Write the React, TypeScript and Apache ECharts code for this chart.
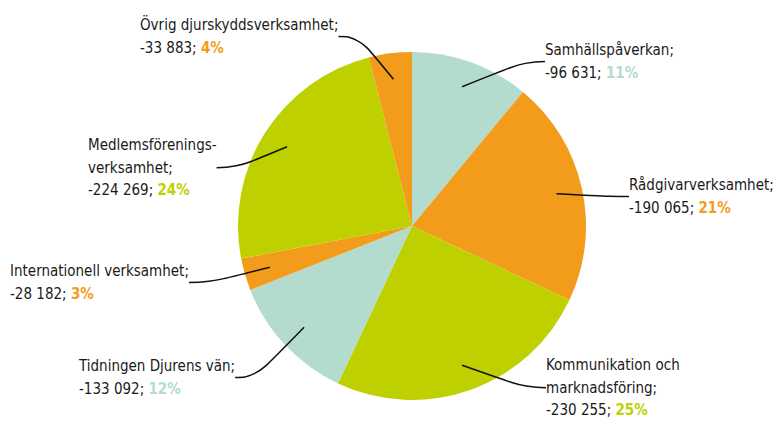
import React, { useEffect, useRef } from "react";
import * as echarts from "echarts";

const categories = [
  "Samhällspåverkan",
  "Rådgivarverksamhet",
  "Kommunikation och\nmarknadsföring",
  "Tidningen Djurens vän",
  "Internationell verksamhet",
  "Medlemsförenings-\nverksamhet",
  "Övrig djurskyddsverksamhet",
];
const amountLabels = ["-96 631", "-190 065", "-230 255", "-133 092", "-28 182", "-224 269", "-33 883"];
const shares = [11, 21, 25, 12, 3, 24, 4];
const colorKeys = ["t", "o", "g", "t", "o", "g", "o"];

const TEAL = "#b3dccf";
const ORANGE = "#f39c1b";
const GREEN = "#bfd000";
const colorMap: Record<string, string> = { t: TEAL, o: ORANGE, g: GREEN };

// label block anchor (left x, top y) per slice
const labelPos: [number, number][] = [
  [545, 39],
  [629, 174],
  [546, 354],
  [79, 355],
  [10, 260],
  [88, 134],
  [140, 14],
];

const FONT = "'DejaVu Sans Condensed', 'Liberation Sans Narrow', sans-serif";
const FS = 15;
const LH = 22.5;

export default function App() {
  const ref = useRef<HTMLDivElement>(null);
  useEffect(() => {
    document.body.style.margin = "0";
    const chart = echarts.init(ref.current!, null, { renderer: "svg" });
    const data = shares.map((v, i) => ({
      value: v,
      name: categories[i],
      itemStyle: { color: colorMap[colorKeys[i]] },
    }));
    const labelData = shares.map((v, i) => ({ value: v, name: categories[i] }));
    chart.setOption({
      animation: false,
      backgroundColor: "#ffffff",
      series: [
        {
          type: "pie",
          center: [412, 226],
          radius: [0, 174],
          startAngle: 90,
          clockwise: true,
          silent: true,
          label: { show: false },
          labelLine: { show: false },
          itemStyle: { borderWidth: 0 },
          data,
        },
        {
          type: "pie",
          center: [412, 226],
          radius: [0, 148],
          startAngle: 90,
          clockwise: true,
          silent: true,
          z: 5,
          itemStyle: { color: "rgba(0,0,0,0)", borderWidth: 0 },
          label: {
            show: true,
            overflow: "none",
            fontFamily: FONT,
            formatter: (p: any) => {
              const i = p.dataIndex;
              const lines = categories[i]
                .split("\n")
                .map((l, k, arr) => `{n|${l}${k === arr.length - 1 ? ";" : ""}}`);
              return lines.join("\n") + `\n{n|${amountLabels[i]}; }{${colorKeys[i]}|${shares[i]}%}`;
            },
            rich: {
              n: { fontFamily: FONT, fontSize: FS, color: "#1a1a1a", lineHeight: LH },
              t: { fontFamily: FONT, fontSize: FS, color: TEAL, fontWeight: "bold", lineHeight: LH },
              o: { fontFamily: FONT, fontSize: FS, color: ORANGE, fontWeight: "bold", lineHeight: LH },
              g: { fontFamily: FONT, fontSize: FS, color: GREEN, fontWeight: "bold", lineHeight: LH },
            },
          },
          labelLine: {
            show: true,
            length: 22,
            length2: 20,
            smooth: 0.5,
            lineStyle: { color: "#111", width: 1.5 },
          },
          labelLayout: (params: any) => {
            const [x, y] = labelPos[params.dataIndex];
            return { x, y, align: "left", verticalAlign: "top" };
          },
          data: labelData,
        },
      ],
    });
    return () => chart.dispose();
  }, []);
  return <div ref={ref} style={{ width: 774, height: 423 }} />;
}
